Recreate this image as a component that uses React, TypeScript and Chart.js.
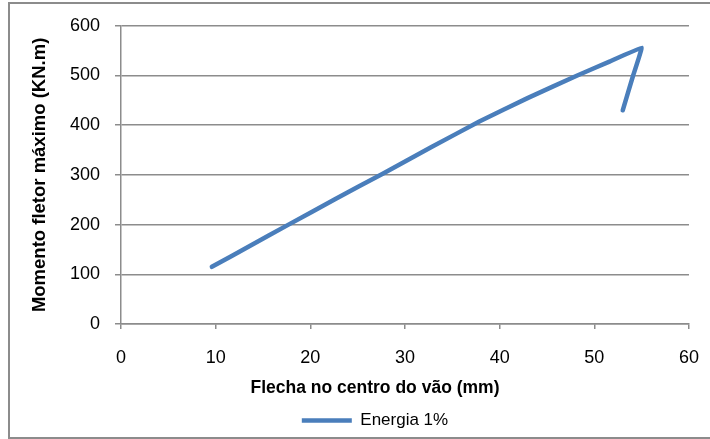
import React, { useEffect, useRef } from 'react';
import { Chart, registerables } from 'chart.js';

Chart.register(...registerables);

// Flecha no centro do vão (mm)
const flechaMm = [9.6, 13.6, 17.6, 22.6, 27.6, 32.8, 37.9, 43, 48.2, 51.6, 55, 54.1, 53.0];
// Momento fletor máximo (KN.m)
const momentoKNm = [115, 157, 199, 251, 302, 356, 408, 455, 500, 528, 556, 500, 430];

const seriesLabel = 'Energia 1%';
const xTitle = 'Flecha no centro do vão (mm)';
const yTitle = 'Momento fletor máximo (KN.m)';
const xMin = 0, xMax = 60, xStep = 10;
const yMin = 0, yMax = 600, yStep = 100;

const FONT = '"Liberation Sans", Arial, sans-serif';
const LINE_COLOR = '#4A7EBB';
const GRID_COLOR = '#8c8c8c';

const framePlugin = {
  id: 'frame',
  afterDraw(chart: any) {
    const ctx = chart.ctx;
    ctx.save();
    ctx.strokeStyle = '#8c8c8c';
    ctx.lineWidth = 2;
    ctx.strokeRect(9, 3, 800, 435);
    ctx.restore();
  },
};

export default function App() {
  const ref = useRef<HTMLCanvasElement>(null);
  useEffect(() => {
    if (!ref.current) return;
    const points = flechaMm.map((x, i) => ({ x, y: momentoKNm[i] }));
    const chart = new Chart(ref.current, {
      type: 'line',
      data: {
        datasets: [
          {
            label: seriesLabel,
            data: points,
            borderColor: LINE_COLOR,
            backgroundColor: LINE_COLOR,
            borderWidth: 4.5,
            pointRadius: 0,
            pointHoverRadius: 0,
            tension: 0.05,
            borderCapStyle: 'round',
            borderJoinStyle: 'round',
            fill: false,
          },
        ],
      },
      options: {
        animation: false,
        responsive: true,
        maintainAspectRatio: false,
        layout: { padding: { left: 61, right: 21, top: 24, bottom: 0 } },
        plugins: {
          tooltip: { enabled: false },
          title: {
            display: true,
            position: 'bottom',
            text: xTitle,
            color: '#000',
            font: { family: FONT, size: 17.5, weight: 'bold' },
            padding: { top: 4, bottom: 3 },
            weight: 500,
          } as any,
          legend: {
            display: true,
            position: 'bottom',
            weight: 1000,
            labels: {
              usePointStyle: true,
              pointStyle: 'line',
              pointStyleWidth: 50,
              color: '#000',
              font: { family: FONT, size: 17 },
              padding: 10,
            },
          } as any,
        },
        scales: {
          x: {
            type: 'linear',
            min: xMin,
            max: xMax,
            ticks: { stepSize: xStep, color: '#000', font: { family: FONT, size: 18, lineHeight: 2 }, padding: 11 },
            grid: { drawOnChartArea: false, drawTicks: true, tickLength: 5, color: GRID_COLOR, lineWidth: 1.5 },
            border: { color: GRID_COLOR, width: 1.5 },
            afterFit: (s: any) => { s.height = 50; },
          },
          y: {
            type: 'linear',
            min: yMin,
            max: yMax,
            ticks: { stepSize: yStep, color: '#000', font: { family: FONT, size: 18 }, padding: 15 },
            grid: { drawOnChartArea: true, drawTicks: true, tickLength: 6, color: GRID_COLOR, lineWidth: 1.5 },
            border: { color: GRID_COLOR, width: 1.5 },
            title: {
              display: true,
              text: yTitle,
              color: '#000',
              font: { family: FONT, size: 18.5, weight: 'bold' },
              padding: { top: -32, bottom: 0 },
            },
            afterFit: (s: any) => { s.width = 60; },
          },
        },
      } as any,
      plugins: [framePlugin],
    });
    return () => chart.destroy();
  }, []);
  return (
    <div style={{ position: 'fixed', left: 0, top: 0, width: 710, height: 439, background: '#fff' }}>
      <canvas ref={ref} />
    </div>
  );
}
